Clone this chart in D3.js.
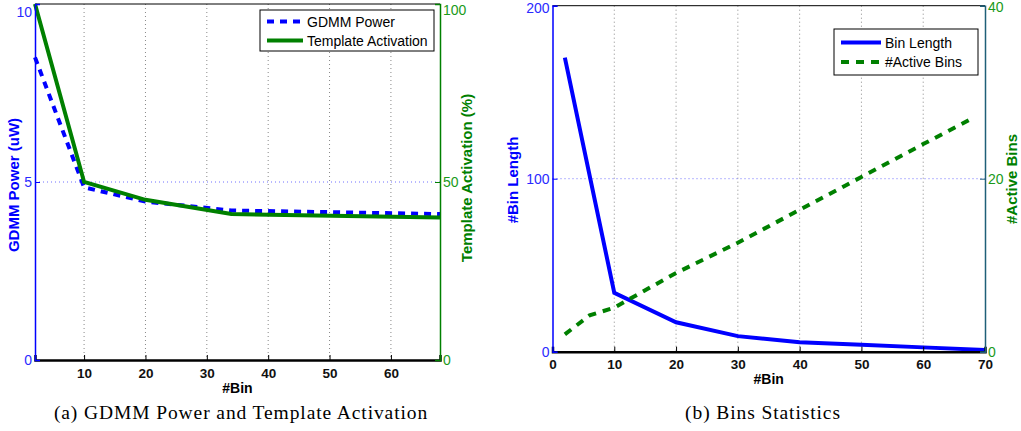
<!DOCTYPE html>
<html>
<head>
<meta charset="utf-8">
<script src="https://cdn.jsdelivr.net/npm/d3@7"></script>
<style>
    body { margin: 0; background: #fff; }
    svg { display: block; font-family: "Liberation Sans", Arial, sans-serif; }
    .caption { font-family: "Liberation Serif", "DejaVu Serif", serif; letter-spacing: 0.9px; }
</style>
</head>
<body>
<script>
// panel (a): GDMM power and template activation
const binsA = [2, 10, 20, 34, 68];
const gdmmPower = [8.5, 4.85, 4.45, 4.2, 4.1];          // uW
const templateActivation = [100, 50, 45, 41, 40];       // %

// panel (b): bins statistics
const binsB = [2, 10, 20, 30, 40, 50, 60, 70];
const binLength = [170, 34, 17, 9, 5.5, 4, 2.5, 1];
const binsActive = [2, 6, 10, 20, 30, 40, 50, 60, 68];
const activeBins = [2, 4.2, 5.1, 9.1, 12.6, 16.4, 20.2, 24, 27];

const ticksA = [10, 20, 30, 40, 50, 60];
const ticksB = [0, 10, 20, 30, 40, 50, 60, 70];

const BLUE = '#0000ff', GREEN = '#008000';
const FONT = 'Liberation Sans, Arial, sans-serif';

const svg = d3.select('body').append('svg')
    .attr('width', 1021).attr('height', 431);

function panel(o){
    const g = svg.append('g');
    const x = d3.scaleLinear().domain(o.xDomain).range([o.left, o.right]);
    const yL = d3.scaleLinear().domain(o.yLDomain).range([o.bottom, o.top]);
    const yR = d3.scaleLinear().domain(o.yRDomain).range([o.bottom, o.top]);

    // grid
    g.selectAll('line.vgrid').data(o.xTicks.filter(t => t > o.xDomain[0] && t < o.xDomain[1]))
        .join('line')
        .attr('x1', d => x(d)).attr('x2', d => x(d))
        .attr('y1', o.top).attr('y2', o.bottom)
        .attr('stroke', '#888').attr('stroke-width', 1).attr('stroke-dasharray', '1,3');
    const midL = (o.yLDomain[0] + o.yLDomain[1]) / 2;
    g.append('line')
        .attr('x1', o.left).attr('x2', o.right)
        .attr('y1', yL(midL)).attr('y2', yL(midL))
        .attr('stroke', '#7070ff').attr('stroke-width', 1).attr('stroke-dasharray', '1,3');

    // top border
    g.append('line').attr('x1', o.left).attr('x2', o.right)
        .attr('y1', o.top).attr('y2', o.top).attr('stroke', '#000');

    // series
    const line = (xs, ys, yScale) => d3.line()(xs.map((v, i) => [x(v), yScale(ys[i])]));
    o.series.forEach(s => {
        g.append('path')
            .attr('d', line(s.x, s.y, s.axis === 'L' ? yL : yR))
            .attr('fill', 'none').attr('stroke', s.color).attr('stroke-width', 4)
            .attr('stroke-dasharray', s.dash || null);
    });

    // bottom axis
    const xAxis = g.append('g').attr('transform', `translate(0,${o.bottom})`)
        .call(d3.axisBottom(x).tickValues(o.xTicks).tickSize(-5).tickPadding(8));
    xAxis.select('.domain').attr('stroke', '#000').attr('stroke-width', 2.5);
    xAxis.selectAll('text').attr('font-size', 13.5).attr('font-weight', 'bold')
        .attr('fill', '#111').attr('font-family', FONT);

    // left axis
    const lAxis = g.append('g').attr('transform', `translate(${o.left},0)`)
        .call(d3.axisLeft(yL).tickValues(o.yLTicks).tickSize(-5).tickPadding(3));
    lAxis.select('.domain').attr('stroke', BLUE).attr('stroke-width', 1.5);
    lAxis.selectAll('line').attr('stroke', BLUE);
    lAxis.selectAll('text').attr('font-size', 14).attr('fill', '#2a2aff').attr('font-family', FONT)
        .filter(d => d === o.yLDomain[1]).attr('transform', `translate(0,${o.topShiftL})`);

    // right axis
    const rAxis = g.append('g').attr('transform', `translate(${o.right},0)`)
        .call(d3.axisRight(yR).tickValues(o.yRTicks).tickSize(-5).tickPadding(3));
    rAxis.select('.domain').attr('stroke', o.rightAxisColor).attr('stroke-width', 1.5);
    rAxis.selectAll('line').attr('stroke', o.rightAxisColor);
    rAxis.selectAll('text').attr('font-size', 14).attr('fill', '#1a9a1a').attr('font-family', FONT)
        .filter(d => d === o.yRDomain[1]).attr('transform', `translate(0,${o.topShiftR})`);

    // axis titles
    g.append('text').attr('x', (o.left + o.right) / 2).attr('y', o.xLabelY)
        .attr('text-anchor', 'middle').attr('font-size', 14).attr('font-weight', 'bold')
        .text('#Bin');
    g.append('text')
        .attr('transform', `translate(${o.yLLabel.x},${o.yLLabel.y}) rotate(-90)`)
        .attr('text-anchor', 'middle').attr('font-size', 15).attr('font-weight', 'bold')
        .attr('fill', BLUE).text(o.yLLabel.text);
    g.append('text')
        .attr('transform', `translate(${o.yRLabel.x},${o.yRLabel.y}) rotate(-90)`)
        .attr('text-anchor', 'middle').attr('font-size', 15).attr('font-weight', 'bold')
        .attr('fill', GREEN).text(o.yRLabel.text);

    // legend
    const lg = g.append('g');
    lg.append('rect').attr('x', o.legend.x).attr('y', o.legend.y)
        .attr('width', o.legend.w).attr('height', o.legend.h)
        .attr('fill', '#fff').attr('stroke', '#000').attr('stroke-width', 1);
    o.legend.items.forEach((it, i) => {
        const cy = o.legend.y + o.legend.first + i * o.legend.step;
        lg.append('line')
            .attr('x1', o.legend.x + 7).attr('x2', o.legend.x + 7 + o.legend.len)
            .attr('y1', cy).attr('y2', cy)
            .attr('stroke', it.color).attr('stroke-width', 4)
            .attr('stroke-dasharray', it.dash || null);
        lg.append('text').attr('x', o.legend.x + 11 + o.legend.len).attr('y', cy + 5)
            .attr('font-size', 14).attr('fill', '#000').text(it.label);
    });

    // caption
    svg.append('text').attr('class', 'caption')
        .attr('x', o.captionX).attr('y', 419)
        .attr('text-anchor', 'middle').attr('font-size', 19.5).attr('fill', '#000')
        .text(o.caption);
}

panel({
    left: 35, right: 440, top: 4, bottom: 360,
    xDomain: [2, 68], xTicks: ticksA,
    yLDomain: [0, 10], yLTicks: [0, 5, 10],
    yRDomain: [0, 100], yRTicks: [0, 50, 100],
    topShiftL: 8, topShiftR: 6,
    rightAxisColor: GREEN,
    series: [
        {x: binsA, y: gdmmPower, axis: 'L', color: BLUE, dash: '7,6'},
        {x: binsA, y: templateActivation, axis: 'R', color: GREEN}
    ],
    xLabelY: 393,
    yLLabel: {text: 'GDMM Power (uW)', x: 18.5, y: 185},
    yRLabel: {text: 'Template Activation (%)', x: 472, y: 178},
    legend: {x: 260, y: 10, w: 174, h: 41, first: 11.5, step: 19, len: 36, items: [
        {label: 'GDMM Power', color: BLUE, dash: '7,6'},
        {label: 'Template Activation', color: GREEN}
    ]},
    caption: '(a)  GDMM Power and Template Activation', captionX: 241
});

panel({
    left: 552.5, right: 985, top: 5.7, bottom: 351.7,
    xDomain: [0, 70], xTicks: ticksB,
    yLDomain: [0, 200], yLTicks: [0, 100, 200],
    yRDomain: [0, 40], yRTicks: [0, 20, 40],
    topShiftL: 2, topShiftR: 1.5,
    rightAxisColor: '#1f5f78',
    series: [
        {x: binsB, y: binLength, axis: 'L', color: BLUE},
        {x: binsActive, y: activeBins, axis: 'R', color: GREEN, dash: '8,7'}
    ],
    xLabelY: 384,
    yLLabel: {text: '#Bin Length', x: 518, y: 180},
    yRLabel: {text: '#Active Bins', x: 1017, y: 179},
    legend: {x: 834, y: 29, w: 144, h: 46, first: 13.5, step: 19.5, len: 40, items: [
        {label: 'Bin Length', color: BLUE},
        {label: '#Active Bins', color: GREEN, dash: '8,7'}
    ]},
    caption: '(b)  Bins Statistics', captionX: 763
});
</script>
</body>
</html>
